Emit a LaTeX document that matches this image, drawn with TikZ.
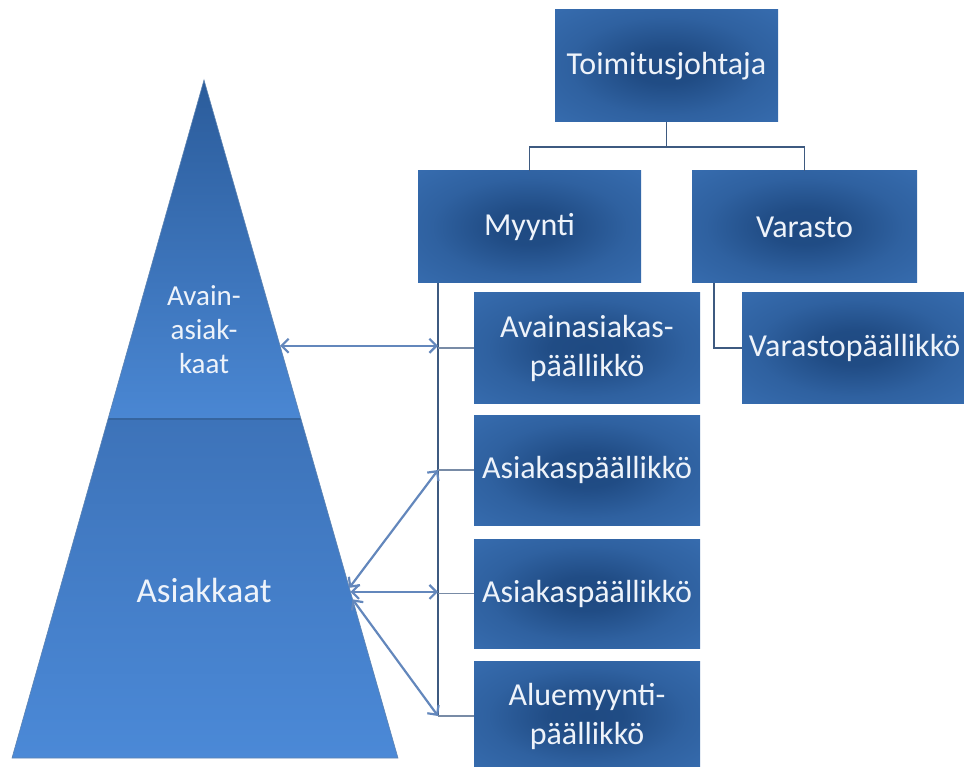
\documentclass[tikz,border=0pt]{standalone}
\usepackage{fontspec}
\setmainfont{Carlito}
\usetikzlibrary{arrows.meta,calc}

\definecolor{boxdark}{HTML}{1F4A82}
\definecolor{boxlight}{HTML}{3C74B9}
\definecolor{pyrtop}{HTML}{2B5C9B}
\definecolor{pyrmid}{HTML}{4A87D3}
\definecolor{pyrlow}{HTML}{3D73B9}
\definecolor{pyrbase}{HTML}{4B89D7}
\definecolor{pyredge}{HTML}{36659F}
\definecolor{labeltext}{HTML}{EEF3FA}
\definecolor{orgcol}{HTML}{3E5A80}
\definecolor{arrcol}{HTML}{6387BC}

% broad elliptical dark glow in the centre of every org box
\pgfdeclareradialshading[boxdark,boxlight]{orgglow}{\pgfpoint{0bp}{0bp}}{%
  color(0bp)=(boxdark); color(8bp)=(boxdark!95!boxlight);
  color(22bp)=(boxlight!55!boxdark); color(38bp)=(boxlight!85!boxdark);
  color(50bp)=(boxlight)}

\tikzset{
  orgbox/.style={shading=orgglow, inner sep=0pt, outer sep=0pt,
    minimum width=225pt, minimum height=110pt, text=labeltext,
    align=center, font=\fontsize{32}{39}\selectfont},
  orgline/.style={draw=orgcol, line width=1.8pt},
  stubline/.style={draw=orgcol!70!white, line width=1.8pt},
  linkarrow/.style={draw=arrcol, line width=2.2pt,
    {Straight Barb[length=7pt,width=14pt]}-{Straight Barb[length=7pt,width=14pt]}},
  pyrlabel/.style={text=labeltext, align=center, inner sep=0pt}
}

\begin{document}
\begin{tikzpicture}[x=1pt,y=-1pt]
\useasboundingbox (0,0) rectangle (964,767);

% ---- customer pyramid ----
\coordinate (apex) at (204,80);
\coordinate (bl) at (12,758);
\coordinate (br) at (398,758);
\coordinate (ml) at ($(apex)!0.5!(bl)$);
\coordinate (mr) at ($(apex)!0.5!(br)$);
\shade[top color=pyrtop, bottom color=pyrmid] (apex) -- (ml) -- (mr) -- cycle;
\shade[top color=pyrlow, bottom color=pyrbase] (ml) -- (bl) -- (br) -- (mr) -- cycle;
\draw[pyredge, line width=1.2pt] (ml) -- (mr);
\draw[pyredge!80!white, line width=0.6pt] (apex) -- (bl) -- (br) -- cycle;

\node[pyrlabel, font=\fontsize{29}{34}\selectfont] (keycust) at (204,330) {Avain-\\asiak-\\kaat};
\node[pyrlabel, font=\fontsize{35}{40}\selectfont] (cust) at (204,590) {Asiakkaat};

% ---- organisation boxes ----
\node[orgbox, minimum width=223pt, minimum height=112pt] (ceo) at (666.5,66) {Toimitusjohtaja};
\node[orgbox, minimum width=223pt, minimum height=112pt] (sales) at (529.5,227) {Myynti};
\node[orgbox, minimum width=225pt, minimum height=112pt] (stock) at (804.5,227) {Varasto};
\node[orgbox, minimum width=226pt] (kam) at (587,348) {Avainasiakas-\\päällikkö};
\node[orgbox, minimum width=226pt] (am1) at (587,470) {Asiakaspäällikkö};
\node[orgbox, minimum width=226pt, minimum height=109pt] (am2) at (587,593.5) {Asiakaspäällikkö};
\node[orgbox, minimum width=226pt] (rsm) at (587,716) {Aluemyynti-\\päällikkö};
\node[orgbox, minimum width=225pt] (stockmgr) at (854.5,348) {Varastopäällikkö};

% ---- hierarchy lines ----
\coordinate (bus) at (666.5,147);
\draw[orgline] (ceo.south) -- (bus);
\draw[orgline] (sales.north) |- (bus) -| (stock.north);
\coordinate (trunk) at ([xshift=20pt]sales.south west);
\coordinate (strunk) at ([xshift=22pt]stock.south west);
\draw[orgline] (trunk) -- (trunk |- rsm.west);
\draw[stubline] (trunk |- kam.west) -- (kam.west);
\draw[stubline] (trunk |- am1.west) -- (am1.west);
\draw[stubline] (trunk |- am2.west) -- (am2.west);
\draw[stubline] (trunk |- rsm.west) -- (rsm.west);
\draw[orgline] (strunk) |- (stockmgr.west);

% ---- links between customer tiers and managers ----
\coordinate (keyedge) at ($(apex)!0.392!(br)$);
\coordinate (custA) at ($(apex)!0.749!(br)$);
\coordinate (custB) at ($(apex)!0.755!(br)$);
\coordinate (custC) at ($(apex)!0.766!(br)$);
\draw[linkarrow] (keyedge) -- (keyedge -| trunk);
\draw[linkarrow] (custA) -- (trunk |- am1.west);
\draw[linkarrow] (custB) -- (custB -| trunk);
\draw[linkarrow] (custC) -- (trunk |- rsm.west);
\end{tikzpicture}
\end{document}
